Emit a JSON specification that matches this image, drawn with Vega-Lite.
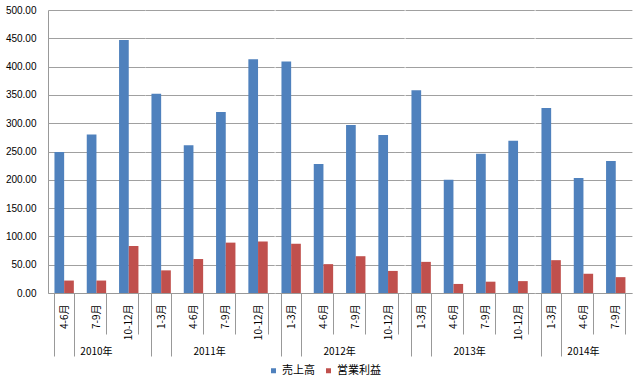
{
  "$schema": "https://vega.github.io/schema/vega-lite/v6.json",
  "padding": {"left": 5, "top": 5, "right": 12, "bottom": 5},
  "background": "white",
  "bounds": "flush",
  "config": {
    "view": {"stroke": null},
    "font": "Noto Sans CJK JP",
    "axis": {"labelFont": "Liberation Sans", "labelColor": "#000", "labelFontSize": 10}
  },
  "data": {"values": [
    {"year": "2010年", "month": "4-6月", "series": "売上高", "value": 249},
    {"year": "2010年", "month": "4-6月", "series": "営業利益", "value": 22},
    {"year": "2010年", "month": "7-9月", "series": "売上高", "value": 280},
    {"year": "2010年", "month": "7-9月", "series": "営業利益", "value": 22},
    {"year": "2010年", "month": "10-12月", "series": "売上高", "value": 447},
    {"year": "2010年", "month": "10-12月", "series": "営業利益", "value": 83},
    {"year": "2011年", "month": "1-3月", "series": "売上高", "value": 352},
    {"year": "2011年", "month": "1-3月", "series": "営業利益", "value": 40},
    {"year": "2011年", "month": "4-6月", "series": "売上高", "value": 261},
    {"year": "2011年", "month": "4-6月", "series": "営業利益", "value": 60},
    {"year": "2011年", "month": "7-9月", "series": "売上高", "value": 320},
    {"year": "2011年", "month": "7-9月", "series": "営業利益", "value": 89},
    {"year": "2011年", "month": "10-12月", "series": "売上高", "value": 413},
    {"year": "2011年", "month": "10-12月", "series": "営業利益", "value": 91},
    {"year": "2012年", "month": "1-3月", "series": "売上高", "value": 409},
    {"year": "2012年", "month": "1-3月", "series": "営業利益", "value": 87},
    {"year": "2012年", "month": "4-6月", "series": "売上高", "value": 228},
    {"year": "2012年", "month": "4-6月", "series": "営業利益", "value": 51},
    {"year": "2012年", "month": "7-9月", "series": "売上高", "value": 297},
    {"year": "2012年", "month": "7-9月", "series": "営業利益", "value": 65},
    {"year": "2012年", "month": "10-12月", "series": "売上高", "value": 279},
    {"year": "2012年", "month": "10-12月", "series": "営業利益", "value": 39},
    {"year": "2013年", "month": "1-3月", "series": "売上高", "value": 358},
    {"year": "2013年", "month": "1-3月", "series": "営業利益", "value": 55},
    {"year": "2013年", "month": "4-6月", "series": "売上高", "value": 200},
    {"year": "2013年", "month": "4-6月", "series": "営業利益", "value": 16},
    {"year": "2013年", "month": "7-9月", "series": "売上高", "value": 246},
    {"year": "2013年", "month": "7-9月", "series": "営業利益", "value": 20},
    {"year": "2013年", "month": "10-12月", "series": "売上高", "value": 269},
    {"year": "2013年", "month": "10-12月", "series": "営業利益", "value": 21},
    {"year": "2014年", "month": "1-3月", "series": "売上高", "value": 327},
    {"year": "2014年", "month": "1-3月", "series": "営業利益", "value": 58},
    {"year": "2014年", "month": "4-6月", "series": "売上高", "value": 203},
    {"year": "2014年", "month": "4-6月", "series": "営業利益", "value": 34},
    {"year": "2014年", "month": "7-9月", "series": "売上高", "value": 233},
    {"year": "2014年", "month": "7-9月", "series": "営業利益", "value": 28}
  ]},
  "facet": {
    "column": {
      "field": "year", "type": "ordinal",
      "header": {"labelOrient": "bottom", "title": null, "labelFontSize": 10, "labelFont": "Noto Sans CJK JP", "labelColor": "#000", "labelPadding": 54}
    }
  },
  "spacing": 0,
  "resolve": {"scale": {"x": "independent"}},
  "spec": {
    "width": {"step": 9.69},
    "height": 283,
    "mark": {"type": "bar"},
    "encoding": {
      "x": {
        "field": "month", "type": "nominal",
        "sort": ["1-3月", "4-6月", "7-9月", "10-12月"],
        "scale": {"paddingInner": 0.4, "paddingOuter": 0.2},
        "axis": {
          "title": null, "labelAngle": 270, "tickBand": "extent",
          "tickSize": {"condition": {"test": "datum.index <= 0", "value": 63}, "value": 41},
          "labelPadding": {"condition": {"test": "datum.index <= 0", "value": -52}, "value": -30},
          "tickColor": "#999", "domainColor": "#999", "labelFont": "Noto Sans CJK JP"
        }
      },
      "y": {
        "field": "value", "type": "quantitative",
        "scale": {"domain": [0, 500]},
        "axis": {
          "title": null, "values": [0, 50, 100, 150, 200, 250, 300, 350, 400, 450, 500],
          "format": ".2f", "gridColor": "#a0a0a0", "domainColor": "#999", "ticks": false,
          "labelPadding": 12
        }
      },
      "xOffset": {"field": "series", "sort": ["売上高", "営業利益"]},
      "color": {
        "field": "series",
        "sort": ["売上高", "営業利益"],
        "scale": {"domain": ["売上高", "営業利益"], "range": ["#4F81BD", "#C0504D"]},
        "legend": {"orient": "none", "legendX": 220, "legendY": 355, "direction": "horizontal", "title": null, "symbolType": "square", "symbolSize": 25, "labelOffset": 3, "labelFontSize": 11, "labelFont": "Noto Sans CJK JP", "labelColor": "#000", "columnPadding": 8}
      }
    }
  }
}
